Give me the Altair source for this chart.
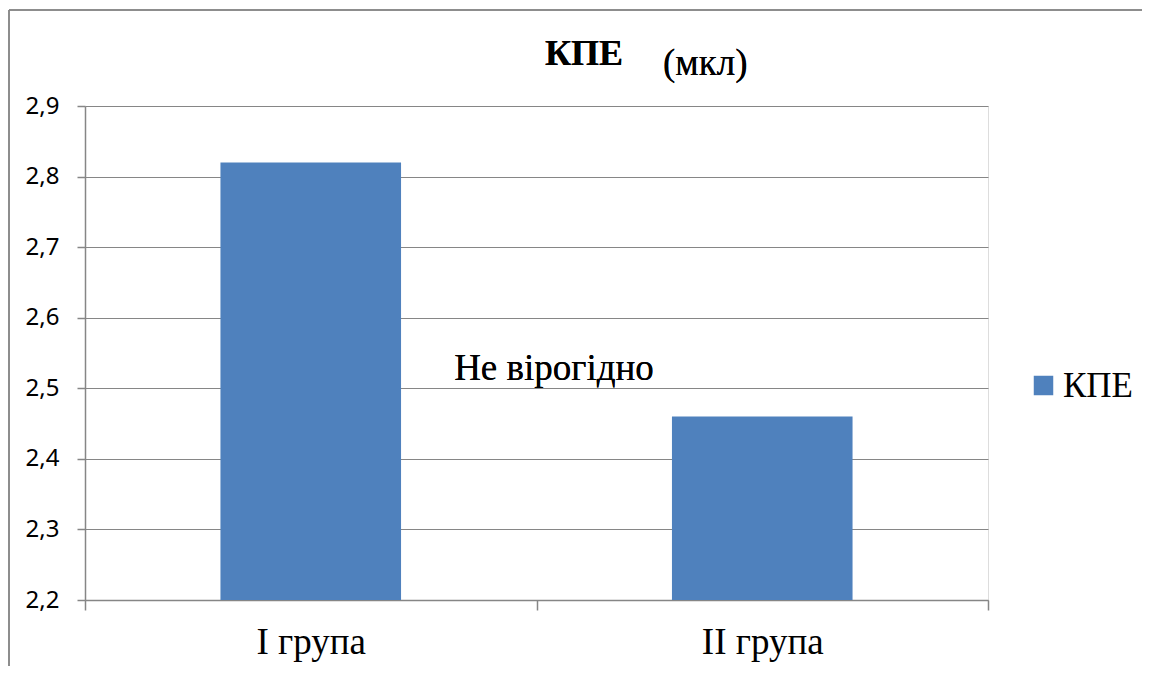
import altair as alt
import pandas as pd

groups = ["I група", "II група"]
values = [2.82, 2.46]
series = ["КПЕ", "КПЕ"]

df = pd.DataFrame({"group": groups, "value": values, "series": series})

W, H = 903, 494
PL, PT = 77, 98
SERIF = "Liberation Serif"

base = alt.Chart(df)

bars = base.mark_bar(width={"band": 0.4}).encode(
    x=alt.X("group:N", sort=groups, title=None,
            scale=alt.Scale(paddingInner=0, paddingOuter=0),
            axis=alt.Axis(labelAngle=0, labelFont=SERIF, labelFontSize=37,
                          labelColor="#000000", labelPadding=14, tickBand="extent",
                          tickSize=10, tickColor="#868686", domainColor="#868686",
                          domainWidth=1.5, tickWidth=1.5, grid=False)),
    y=alt.Y("value:Q", title=None,
            scale=alt.Scale(domain=[2.2, 2.9], zero=False, nice=False),
            axis=alt.Axis(values=[2.2, 2.3, 2.4, 2.5, 2.6, 2.7, 2.8, 2.9],
                          labelExpr="replace(format(datum.value, '.1f'), '.', ',')",
                          labelFont="Noto Sans", labelFontSize=24, labelColor="#000000",
                          labelPadding=18, tickSize=8, tickColor="#868686",
                          domainColor="#868686", domainWidth=1.5, tickWidth=1.5,
                          gridColor="#868686", gridWidth=1.2)),
    y2=alt.datum(2.2),
    color=alt.Color("series:N", title=None,
                    scale=alt.Scale(range=["#4F81BD"]),
                    legend=alt.Legend(orient="none", legendX=941, legendY=262,
                                      symbolType="square", symbolSize=380,
                                      symbolStrokeWidth=0, labelFont=SERIF,
                                      labelFontSize=35, labelColor="#000000",
                                      labelOffset=2)),
)

title1 = base.mark_text(text="КПЕ", font=SERIF, fontSize=36,
                        fontWeight="bold", align="left", baseline="alphabetic",
                        color="#000000").encode(x=alt.value(545 - 85), y=alt.value(65 - 106))
title2 = base.mark_text(text="(мкл)", font=SERIF, fontSize=37,
                        align="left", baseline="alphabetic",
                        color="#000000").encode(x=alt.value(663 - 85), y=alt.value(75 - 106))
note = base.mark_text(text="Не вірогідно", font=SERIF, fontSize=37,
                      align="center", baseline="alphabetic",
                      color="#000000").encode(x=alt.value(554 - 85), y=alt.value(380 - 106))

frame_left = base.mark_rule(color="#868686", strokeWidth=1.5).encode(
    x=alt.value(9 - 85), x2=alt.value(9 - 85), y=alt.value(10 - 106), y2=alt.value(700 - 106))
frame_top = base.mark_rule(color="#868686", strokeWidth=1.5).encode(
    x=alt.value(9 - 85), x2=alt.value(1200 - 85), y=alt.value(10 - 106), y2=alt.value(10 - 106))

chart = alt.layer(bars, title1, title2, note, frame_left, frame_top).properties(
    width=W, height=H,
    autosize=alt.AutoSizeParams(type="none"),
    padding={"left": PL, "top": PT, "right": 154, "bottom": 66},
).configure_view(stroke=None).configure(background="#ffffff")

chart.save("out.html", embed_options={"renderer": "svg", "actions": False})
